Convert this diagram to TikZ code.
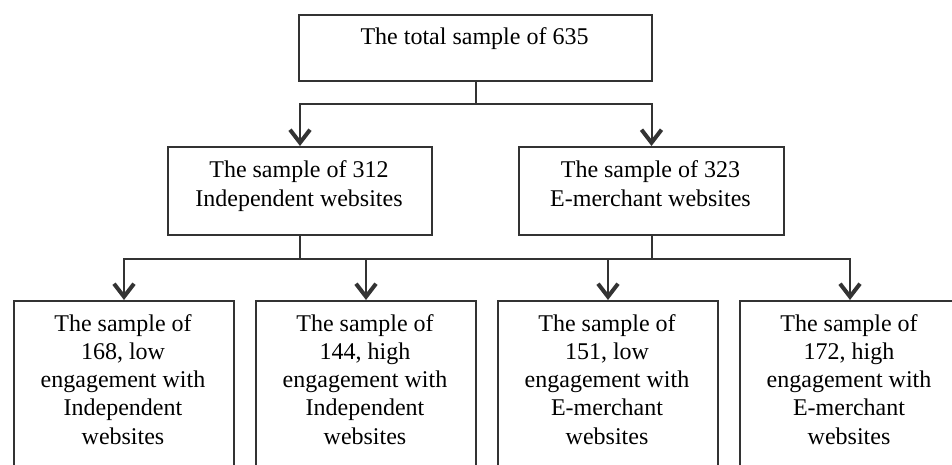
\documentclass[tikz,border=0pt]{standalone}
\usepackage{fontspec}
\setmainfont{Liberation Serif}
\usetikzlibrary{arrows.meta}

\tikzset{
  box/.style={draw=black!80, line width=2pt, inner sep=0pt, anchor=north west},
  lbl/.style={font=\fontsize{24}{28.2}\selectfont, align=center, inner sep=0pt, anchor=base, text=black},
  link/.style={draw=black!80, line width=2pt},
  arr/.style={link, -{Straight Barb[length=13pt, width=20pt, line width=4pt]}}
}

\begin{document}
\begin{tikzpicture}[x=1pt, y=-1pt]
  \useasboundingbox (0,0) rectangle (952,465);
  \clip (0,0) rectangle (952,465);

  % boxes
  \node[box, minimum width=353pt, minimum height=66pt] (top) at (298,14) {};
  \node[box, minimum width=264pt, minimum height=88pt] (midL) at (167,146) {};
  \node[box, minimum width=265pt, minimum height=88pt] (midR) at (518,146) {};
  \node[box, minimum width=220pt, minimum height=190pt] (b1) at (13,300) {};
  \node[box, minimum width=220pt, minimum height=190pt] (b2) at (255,300) {};
  \node[box, minimum width=220pt, minimum height=190pt] (b3) at (497,300) {};
  \node[box, minimum width=220pt, minimum height=190pt] (b4) at (739,300) {};

  % texts (anchored on the baseline of the last line)
  \node[lbl] (ttop) at (474.5,45) {The total sample of 635};
  \node[lbl] (tmidL) at (299,206) {The sample of 312\\Independent websites};
  \node[lbl] (tmidR) at (650.5,206) {The sample of 323\\E-merchant websites};
  \node[lbl] (tb1) at (123,444) {The sample of\\168, low\\engagement with\\Independent\\websites};
  \node[lbl] (tb2) at (365,444) {The sample of\\144, high\\engagement with\\Independent\\websites};
  \node[lbl] (tb3) at (607,444) {The sample of\\151, low\\engagement with\\E-merchant\\websites};
  \node[lbl] (tb4) at (849,444) {The sample of\\172, high\\engagement with\\E-merchant\\websites};

  % junction points
  \coordinate (j0) at ([yshift=-22pt]top.south);
  \coordinate (jL) at ([yshift=-23pt]midL.south);
  \coordinate (jR) at ([yshift=-23pt]midR.south);

  % first level
  \draw[link] (top.south) -- (j0);
  \draw[arr] (j0) -| (midL.north);
  \draw[arr] (j0) -| (midR.north);

  % second level
  \draw[link] (midL.south) -- (jL);
  \draw[link] (midR.south) -- (jR);
  \draw[arr] (jL) -| (b1.north);
  \draw[arr] (jL) -| (b2.north);
  \draw[arr] (jR) -| (b3.north);
  \draw[arr] (jR) -| (b4.north);
  \draw[link] (b2.north |- jL) -- (b3.north |- jR);
\end{tikzpicture}
\end{document}
